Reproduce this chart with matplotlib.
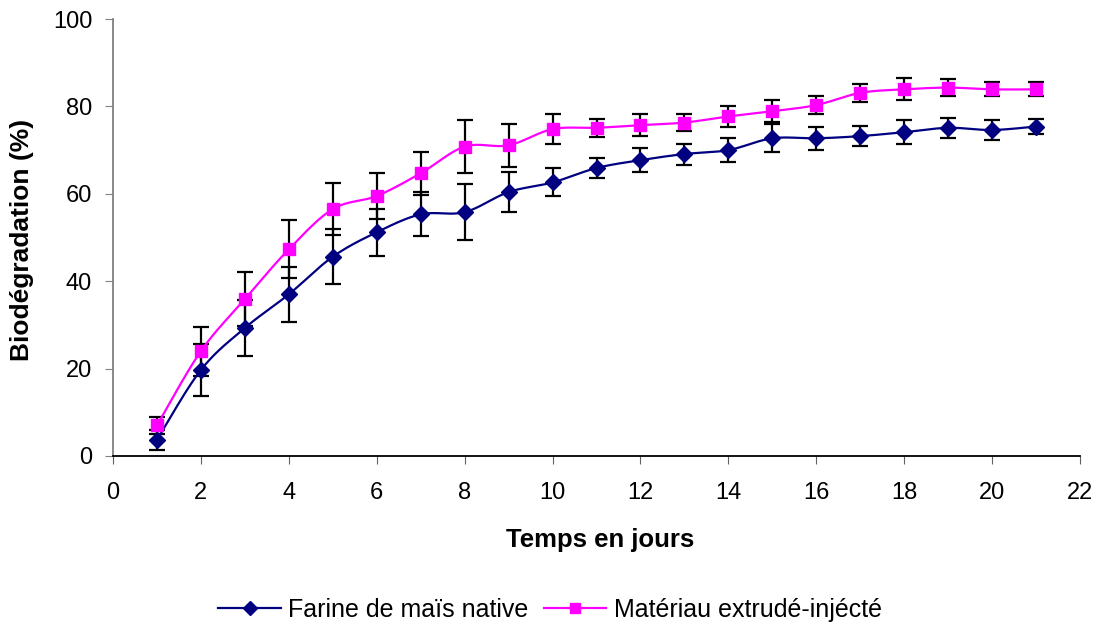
import numpy as np
import matplotlib
matplotlib.use("Agg")
import matplotlib.pyplot as plt
from matplotlib.lines import Line2D

days = list(range(1, 22))
farine = [3.7, 19.7, 29.3, 37.0, 45.6, 51.2, 55.3, 55.8, 60.4, 62.6, 65.9, 67.7,
          69.1, 70.0, 72.7, 72.7, 73.2, 74.1, 75.1, 74.6, 75.4]
farine_err = [2.3, 6.0, 6.4, 6.3, 6.3, 5.4, 5.0, 6.4, 4.6, 3.2, 2.3, 2.8,
              2.4, 2.7, 3.2, 2.7, 2.3, 2.8, 2.3, 2.4, 1.8]
materiau = [7.0, 24.0, 35.9, 47.3, 56.5, 59.5, 64.7, 70.8, 71.1, 74.8, 75.1, 75.7,
            76.3, 77.7, 78.9, 80.3, 83.1, 83.9, 84.3, 83.9, 83.9]
materiau_err = [2.0, 5.6, 6.2, 6.6, 6.0, 5.3, 4.9, 6.1, 4.9, 3.5, 2.1, 2.5,
                2.0, 2.5, 2.5, 2.1, 2.0, 2.5, 1.9, 1.6, 1.6]
x_ticks = list(range(0, 23, 2))
y_ticks = list(range(0, 101, 20))
labels = ["Farine de maïs native", "Matériau extrudé-injécté"]


def smooth(x, y, n=20):
    # Catmull-Rom style cubic Bezier smoothing (like Excel smoothed line)
    x = np.asarray(x, float)
    y = np.asarray(y, float)
    px, py = [], []
    t = np.linspace(0, 1, n)
    for i in range(len(x) - 1):
        x0, y0 = (x[i - 1], y[i - 1]) if i > 0 else (x[i], y[i])
        x3, y3 = (x[i + 2], y[i + 2]) if i + 2 < len(x) else (x[i + 1], y[i + 1])
        x1, y1 = x[i], y[i]
        x2, y2 = x[i + 1], y[i + 1]
        c1x = x1 + (x2 - x0) / 6
        c1y = y1 + (y2 - y0) / 6
        c2x = x2 - (x3 - x1) / 6
        c2y = y2 - (y3 - y1) / 6
        bx = (1 - t) ** 3 * x1 + 3 * (1 - t) ** 2 * t * c1x + 3 * (1 - t) * t ** 2 * c2x + t ** 3 * x2
        by = (1 - t) ** 3 * y1 + 3 * (1 - t) ** 2 * t * c1y + 3 * (1 - t) * t ** 2 * c2y + t ** 3 * y2
        px.extend(bx)
        py.extend(by)
    return np.array(px), np.array(py)


plt.rcParams['font.family'] = ['Liberation Sans', 'DejaVu Sans']

W, H = 1101, 628
fig = plt.figure(figsize=(W / 100, H / 100), dpi=100)
ax = fig.add_axes([113 / W, 1 - 456 / H, (1080 - 113) / W, (456 - 19) / H])

navy = '#000080'
magenta = '#FF00FF'

for yv, ye, col, mk, ms in [(farine, farine_err, navy, 'D', 8),
                            (materiau, materiau_err, magenta, 's', 8)]:
    sx, sy = smooth(days, yv)
    ax.plot(sx, sy, color=col, lw=1.6, zorder=3)
    ax.errorbar(days, yv, yerr=ye, fmt='none', ecolor='black', elinewidth=1.6,
                capsize=5.5, capthick=1.6, zorder=2)
    ax.plot(days, yv, linestyle='none', marker=mk, color=col, markersize=ms, zorder=4)

ax.set_xlim(0, 22)
ax.set_ylim(0, 100)
ax.set_xticks(x_ticks)
ax.set_yticks(y_ticks)
ax.spines['top'].set_visible(False)
ax.spines['right'].set_visible(False)
ax.spines['left'].set_color('#808080')
ax.spines['left'].set_linewidth(1.3)
ax.spines['bottom'].set_color('black')
ax.spines['bottom'].set_linewidth(1.3)
ax.tick_params(axis='both', direction='out', length=6, labelsize=17)
ax.tick_params(axis='x', pad=13, colors='#606060', labelcolor='black')
ax.tick_params(axis='y', pad=9, colors='#808080', labelcolor='black')

fig.text(600 / W, 1 - 540 / H, 'Temps en jours', fontsize=18.5, fontweight='bold',
         ha='center', va='center')
fig.text(22 / W, 1 - 240 / H, 'Biodégradation (%)', fontsize=19, fontweight='bold',
         ha='center', va='center', rotation=90)

handles = [Line2D([], [], color=navy, marker='D', markersize=7, lw=1.6),
           Line2D([], [], color=magenta, marker='s', markersize=7, lw=1.6)]
fig.legend(handles, labels, loc='center', bbox_to_anchor=(550 / W, 1 - 610 / H), ncol=2,
           frameon=False, fontsize=18, handlelength=2.5, handletextpad=0.3,
           columnspacing=0.6)

fig.savefig('out.png', dpi=100)
